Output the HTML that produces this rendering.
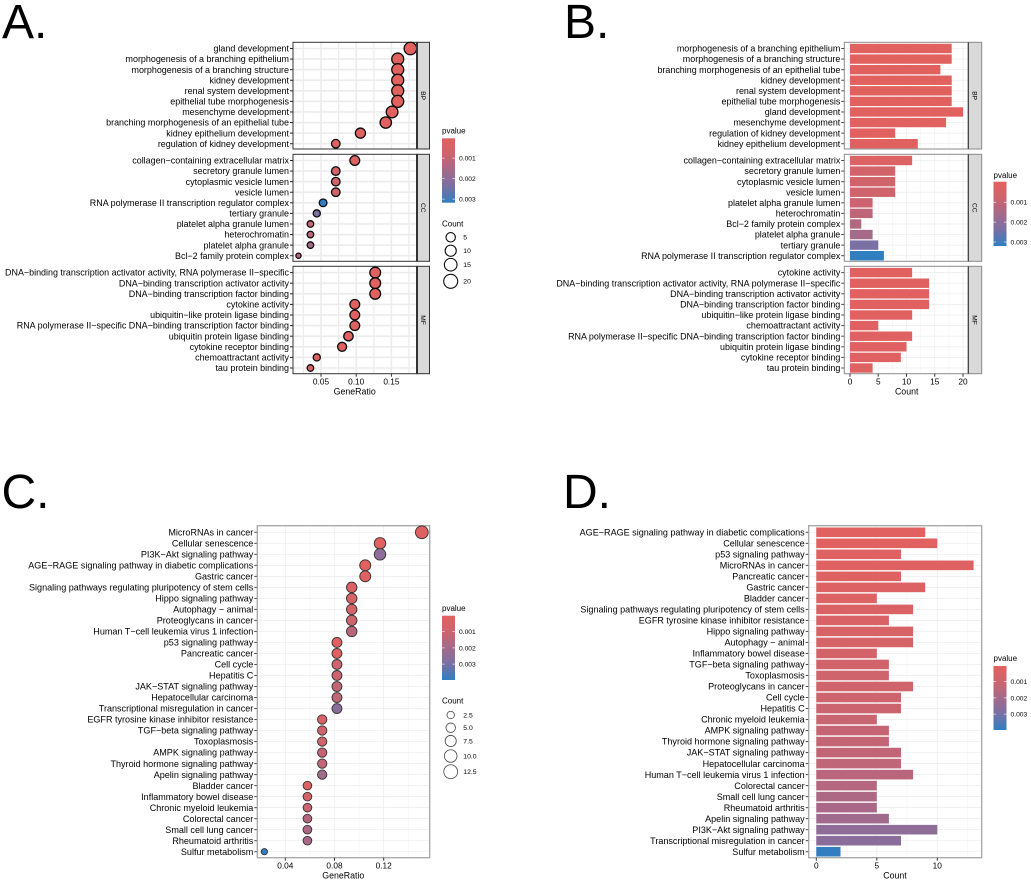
<!DOCTYPE html>
<html lang="en">
<head>
<meta charset="utf-8">
<title>Enrichment analysis panels</title>
<style>
html,body{margin:0;padding:0;background:#fff;width:1031px;height:883px;overflow:hidden}
svg{display:block;filter:blur(0.25px)}
text{font-family:"Liberation Sans",Arial,sans-serif;fill:#000}
.letter{font-size:48px;fill:#000}
</style>
</head>
<body>
<svg id="figure" width="1031" height="883" viewBox="0 0 1031 883" xmlns="http://www.w3.org/2000/svg">
  <defs>
    <linearGradient id="pGrad" x1="0" y1="0" x2="0" y2="1">
      <stop offset="0" stop-color="#e2615f"/>
      <stop offset="0.25" stop-color="#cd646e"/>
      <stop offset="0.5" stop-color="#a5698a"/>
      <stop offset="0.75" stop-color="#7870a5"/>
      <stop offset="1" stop-color="#2f7fc1"/>
    </linearGradient>
  </defs>
  <text class="letter" x="2" y="38">A.</text>
  <text class="letter" x="564" y="38">B.</text>
  <text class="letter" x="1.5" y="508">C.</text>
  <text class="letter" x="563" y="508">D.</text>
  <g id="panelA"></g>
  <g id="panelB"></g>
  <g id="panelC"></g>
  <g id="panelD"></g>
</svg>
<script>
/* ---------- Panel A data ---------- */
const aBpTerms = ["gland development","morphogenesis of a branching epithelium","morphogenesis of a branching structure","kidney development","renal system development","epithelial tube morphogenesis","mesenchyme development","branching morphogenesis of an epithelial tube","kidney epithelium development","regulation of kidney development"];
const aBpRatio = [0.177,0.159,0.159,0.159,0.159,0.159,0.151,0.142,0.106,0.071];
const aBpCount = [20,18,18,18,18,18,17,16,12,8];
const aBpP = [0.00004,0.00004,0.00004,0.00004,0.00004,0.00004,0.00005,0.00005,0.00008,0.00010];
const aCcTerms = ["collagen\u2212containing extracellular matrix","secretory granule lumen","cytoplasmic vesicle lumen","vesicle lumen","RNA polymerase II transcription regulator complex","tertiary granule","platelet alpha granule lumen","heterochromatin","platelet alpha granule","Bcl\u22122 family protein complex"];
const aCcRatio = [0.098,0.071,0.071,0.071,0.053,0.044,0.035,0.035,0.035,0.018];
const aCcCount = [11,8,8,8,6,5,4,4,4,2];
const aCcP = [0.00025,0.00060,0.00065,0.00070,0.00315,0.00235,0.00085,0.00110,0.00160,0.00130];
const aMfTerms = ["DNA\u2212binding transcription activator activity, RNA polymerase II\u2212specific","DNA\u2212binding transcription activator activity","DNA\u2212binding transcription factor binding","cytokine activity","ubiquitin\u2212like protein ligase binding","RNA polymerase II\u2212specific DNA\u2212binding transcription factor binding","ubiquitin protein ligase binding","cytokine receptor binding","chemoattractant activity","tau protein binding"];
const aMfRatio = [0.127,0.127,0.127,0.098,0.098,0.098,0.089,0.080,0.044,0.035];
const aMfCount = [14,14,14,11,11,11,10,9,5,4];
const aMfP = [0.00006,0.00006,0.00006,0.00005,0.00008,0.00010,0.00012,0.00010,0.00010,0.00012];
const aXTicks = [0.05,0.10,0.15];
const aXTickLabels = ["0.05","0.10","0.15"];
const aXMinor = [0.025,0.075,0.125,0.175];

/* ---------- Panel B data ---------- */
const bBpTerms = ["morphogenesis of a branching epithelium","morphogenesis of a branching structure","branching morphogenesis of an epithelial tube","kidney development","renal system development","epithelial tube morphogenesis","gland development","mesenchyme development","regulation of kidney development","kidney epithelium development"];
const bBpCount = [18,18,16,18,18,18,20,17,8,12];
const bBpP = [0.00004,0.00004,0.00004,0.00004,0.00004,0.00004,0.00004,0.00005,0.00008,0.00008];
const bCcTerms = ["collagen\u2212containing extracellular matrix","secretory granule lumen","cytoplasmic vesicle lumen","vesicle lumen","platelet alpha granule lumen","heterochromatin","Bcl\u22122 family protein complex","platelet alpha granule","tertiary granule","RNA polymerase II transcription regulator complex"];
const bCcCount = [11,8,8,8,4,4,2,4,5,6];
const bCcP = [0.00025,0.00060,0.00065,0.00070,0.00085,0.00110,0.00130,0.00160,0.00235,0.00315];
const bMfTerms = ["cytokine activity","DNA\u2212binding transcription activator activity, RNA polymerase II\u2212specific","DNA\u2212binding transcription activator activity","DNA\u2212binding transcription factor binding","ubiquitin\u2212like protein ligase binding","chemoattractant activity","RNA polymerase II\u2212specific DNA\u2212binding transcription factor binding","ubiquitin protein ligase binding","cytokine receptor binding","tau protein binding"];
const bMfCount = [11,14,14,14,11,5,11,10,9,4];
const bMfP = [0.00005,0.00006,0.00006,0.00006,0.00008,0.00010,0.00010,0.00012,0.00010,0.00012];
const bXTicks = [0,5,10,15,20];
const bXTickLabels = ["0","5","10","15","20"];
const bXMinor = [2.5,7.5,12.5,17.5];

/* ---------- Panel C data ---------- */
const cTerms = ["MicroRNAs in cancer","Cellular senescence","PI3K\u2212Akt signaling pathway","AGE\u2212RAGE signaling pathway in diabetic complications","Gastric cancer","Signaling pathways regulating pluripotency of stem cells","Hippo signaling pathway","Autophagy \u2212 animal","Proteoglycans in cancer","Human T\u2212cell leukemia virus 1 infection","p53 signaling pathway","Pancreatic cancer","Cell cycle","Hepatitis C","JAK\u2212STAT signaling pathway","Hepatocellular carcinoma","Transcriptional misregulation in cancer","EGFR tyrosine kinase inhibitor resistance","TGF\u2212beta signaling pathway","Toxoplasmosis","AMPK signaling pathway","Thyroid hormone signaling pathway","Apelin signaling pathway","Bladder cancer","Inflammatory bowel disease","Chronic myeloid leukemia","Colorectal cancer","Small cell lung cancer","Rheumatoid arthritis","Sulfur metabolism"];
const cRatio = [0.151,0.117,0.117,0.105,0.105,0.094,0.094,0.094,0.094,0.094,0.082,0.082,0.082,0.082,0.082,0.082,0.082,0.070,0.070,0.070,0.070,0.070,0.070,0.058,0.058,0.058,0.058,0.058,0.058,0.023];
const cCount = [13,10,10,9,9,8,8,8,8,8,7,7,7,7,7,7,7,6,6,6,6,6,6,5,5,5,5,5,5,2];
const cP = [0.00015,0.00010,0.00250,0.00005,0.00025,0.00040,0.00055,0.00060,0.00090,0.00150,0.00012,0.00020,0.00100,0.00105,0.00130,0.00135,0.00260,0.00050,0.00080,0.00085,0.00120,0.00125,0.00210,0.00030,0.00070,0.00110,0.00160,0.00180,0.00190,0.00395];
const cXTicks = [0.04,0.08,0.12];
const cXTickLabels = ["0.04","0.08","0.12"];
const cXMinor = [0.02,0.06,0.10,0.14];

/* ---------- Panel D data ---------- */
const dTerms = ["AGE\u2212RAGE signaling pathway in diabetic complications","Cellular senescence","p53 signaling pathway","MicroRNAs in cancer","Pancreatic cancer","Gastric cancer","Bladder cancer","Signaling pathways regulating pluripotency of stem cells","EGFR tyrosine kinase inhibitor resistance","Hippo signaling pathway","Autophagy \u2212 animal","Inflammatory bowel disease","TGF\u2212beta signaling pathway","Toxoplasmosis","Proteoglycans in cancer","Cell cycle","Hepatitis C","Chronic myeloid leukemia","AMPK signaling pathway","Thyroid hormone signaling pathway","JAK\u2212STAT signaling pathway","Hepatocellular carcinoma","Human T\u2212cell leukemia virus 1 infection","Colorectal cancer","Small cell lung cancer","Rheumatoid arthritis","Apelin signaling pathway","PI3K\u2212Akt signaling pathway","Transcriptional misregulation in cancer","Sulfur metabolism"];
const dCount = [9,10,7,13,7,9,5,8,6,8,8,5,6,6,8,7,7,5,6,6,7,7,8,5,5,5,6,10,7,2];
const dP = [0.00005,0.00010,0.00012,0.00015,0.00020,0.00025,0.00030,0.00040,0.00050,0.00055,0.00060,0.00070,0.00080,0.00085,0.00090,0.00100,0.00105,0.00110,0.00120,0.00125,0.00130,0.00135,0.00150,0.00160,0.00180,0.00190,0.00210,0.00250,0.00260,0.00395];
const dXTicks = [0,5,10];
const dXTickLabels = ["0","5","10"];
const dXMinor = [2.5,7.5,12.5];

/* ---------- Legend data ---------- */
const pLegendValues = [0.001,0.002,0.003];
const pLegendLabels = ["0.001","0.002","0.003"];
const aCountLegendValues = [5,10,15,20];
const aCountLegendLabels = ["5","10","15","20"];
const cCountLegendValues = [2.5,5,7.5,10,12.5];
const cCountLegendLabels = ["2.5","5.0","7.5","10.0","12.5"];

/* ---------- Scales ---------- */
const xA = v => 321 + (v - 0.05) * 704;
const xB = v => 850 + v * 5.65;
const xC = v => 285.3 + (v - 0.04) * 1230;
const xD = v => 816.3 + v * 12.1;
const rA = c => 0.9 + 1.2 * Math.sqrt(c);
const rC = c => 1 + 1.5 * Math.sqrt(c);
const rLegA = c => Math.sqrt(13 + 1.8 * c);
const rLegC = c => Math.sqrt(5.5 + 3.4 * c);
const scaleAB = {min:0.00002, max:0.00317};
const scaleCD = {min:0.00001, max:0.00399};

const rampStops = [[226,97,95],[205,100,110],[165,105,138],[120,112,165],[47,127,193]];
function pColor(p, s){
  const t = Math.max(0, Math.min(1, (p - s.min) / (s.max - s.min))) * 4;
  const i = Math.min(3, Math.floor(t));
  const u = t - i;
  const a = rampStops[i];
  const b = rampStops[i + 1];
  return "rgb(" + [0,1,2].map(k => Math.round(a[k] + (b[k] - a[k]) * u)).join(",") + ")";
}

const NS = "http://www.w3.org/2000/svg";
function mk(tag, parent, props){
  const n = document.createElementNS(NS, tag);
  for (const k in props) n.setAttribute(k, props[k]);
  parent.appendChild(n);
  return n;
}

/* Panel frame: background grid rows and vertical grid */
function drawGrid(g, box, rows, xScale, ticks, minor, col, wMajor, wMinor){
  minor.forEach(v => {
    const x = xScale(v);
    if (x < box.x0 || x > box.x1) return;
    const el = mk("line", g, {x1:x, x2:x, y1:box.y0, y2:box.y1, stroke:col, "stroke-width":wMinor});
    
    
  });
  ticks.forEach(v => {
    const x = xScale(v);
    const el = mk("line", g, {x1:x, x2:x, y1:box.y0, y2:box.y1, stroke:col, "stroke-width":wMajor});
    
    
  });
  rows.forEach(y => {
    const el = mk("line", g, {x1:box.x0, x2:box.x1, y1:y, y2:y, stroke:col, "stroke-width":wMajor});
    
    
  });
}

function rowPositions(first, last, n){
  const out = [];
  for (let i = 0; i < n; i++) out.push(first + (last - first) * i / (n - 1));
  return out;
}

function drawRowLabels(g, box, rows, terms, size, tickCol){
  terms.forEach((t, i) => {
    const tick = mk("line", g, {x1:box.x0 - 3, x2:box.x0, y1:rows[i], y2:rows[i], stroke:tickCol, "stroke-width":1});
    
    
    const el = mk("text", g, {x:box.x0 - 4, y:rows[i] + size * 0.35, "text-anchor":"end", "font-size":size});
    el.textContent = t;
    
    
  });
}

function drawDots(g, rows, ratios, counts, ps, xScale, rScale, scale, strokeCol, strokeW){
  ratios.forEach((v, i) => {
    const el = mk("circle", g, {cx:xScale(v), cy:rows[i], r:rScale(counts[i]), fill:pColor(ps[i], scale), stroke:strokeCol, "stroke-width":strokeW});
    
    
  });
}

function drawBars(g, rows, counts, ps, xScale, scale, h){
  counts.forEach((v, i) => {
    const el = mk("rect", g, {x:xScale(0), y:rows[i] - h / 2, width:xScale(v) - xScale(0), height:h, fill:pColor(ps[i], scale)});
    
    
  });
}

function drawBorder(g, box, col, w){
  const el = mk("rect", g, {x:box.x0, y:box.y0, width:box.x1 - box.x0, height:box.y1 - box.y0, fill:"none", stroke:col, "stroke-width":w});
  
  
}

function drawStrip(g, box, stripRight, label, col, leftW){
  const el = mk("rect", g, {x:box.x1, y:box.y0, width:stripRight - box.x1, height:box.y1 - box.y0, fill:"#d9d9d9", stroke:col, "stroke-width":1});
  
  
  const cx = (box.x1 + stripRight) / 2;
  const cy = (box.y0 + box.y1) / 2;
  const txt = mk("text", g, {x:cx, y:cy + 2.3, "text-anchor":"middle", "font-size":6.6, fill:"#222", transform:"rotate(90 " + cx + " " + cy + ")"});
  txt.textContent = label;
  
  
  return leftW;
}

function drawStripEdge(g, box, leftW){
  const edge = mk("line", g, {x1:box.x1, x2:box.x1, y1:box.y0, y2:box.y1, stroke:"#333", "stroke-width":leftW});
  
  
}

function drawXAxis(g, bottom, xScale, ticks, labels, title, titleX, labelY, titleY){
  ticks.forEach((v, i) => {
    const x = xScale(v);
    const tick = mk("line", g, {x1:x, x2:x, y1:bottom, y2:bottom + 3, stroke:"#333", "stroke-width":1});
    
    
    const el = mk("text", g, {x:x, y:labelY + 3, "text-anchor":"middle", "font-size":8.3});
    el.textContent = labels[i];
    
    
  });
  const t = mk("text", g, {x:titleX, y:titleY + 3, "text-anchor":"middle", "font-size":8.8});
  t.textContent = title;
  
  
}

function drawColorbar(g, x, top, bottom, tickYs, titleY){
  const title = mk("text", g, {x:x, y:titleY + 3, "font-size":8});
  title.textContent = "pvalue";
  
  
  const bar = mk("rect", g, {x:x, y:top, width:13, height:bottom - top, fill:"url(#pGrad)"});
  
  
  pLegendValues.forEach((v, i) => {
    const y = tickYs(v);
    const l = mk("line", g, {x1:x, x2:x + 2.6, y1:y, y2:y, stroke:"#fff", "stroke-width":0.6});
    
    
    const r = mk("line", g, {x1:x + 10.4, x2:x + 13, y1:y, y2:y, stroke:"#fff", "stroke-width":0.6});
    
    
    const el = mk("text", g, {x:x + 17, y:y + 2.4, "font-size":6.7});
    el.textContent = pLegendLabels[i];
    
    
  });
}

function drawCountLegend(g, titleY, values, labels, rFn, ys, strokeCol, strokeW){
  const title = mk("text", g, {x:442, y:titleY + 3, "font-size":8});
  title.textContent = "Count";
  
  
  values.forEach((v, i) => {
    const y = ys[i];
    const c = mk("circle", g, {cx:450.7, cy:y, r:rFn(v), fill:"#fff", stroke:strokeCol, "stroke-width":strokeW});
    
    
    const el = mk("text", g, {x:463.3, y:y + 2.4, "font-size":6.8});
    el.textContent = labels[i];
    
    
  });
}

/* ---------- Facet layout (shared by A and B) ---------- */
const facetLayout = [
  {y0:42.3, y1:149, first:48.5, last:143.7, label:"BP"},
  {y0:154.3, y1:261.3, first:160.5, last:255.7, label:"CC"},
  {y0:266.3, y1:373.7, first:272.6, last:368, label:"MF"}
];

/* ---------- Draw panel A ---------- */
(function(){
  const g = document.getElementById("panelA");
  const terms = [aBpTerms, aCcTerms, aMfTerms];
  const ratios = [aBpRatio, aCcRatio, aMfRatio];
  const counts = [aBpCount, aCcCount, aMfCount];
  const ps = [aBpP, aCcP, aMfP];
  facetLayout.forEach((f, i) => {
    const box = {x0:293, x1:417, y0:f.y0, y1:f.y1};
    const rows = rowPositions(f.first, f.last, terms[i].length);
    drawGrid(g, box, rows, xA, aXTicks, aXMinor, "#ececec", 1.6, 1.3);
    drawRowLabels(g, box, rows, terms[i], 8.95, "#222");
    drawStrip(g, box, 429.5, f.label, "#333", 2);
    drawBorder(g, box, "#333", 1);
    drawDots(g, rows, ratios[i], counts[i], ps[i], xA, rA, scaleAB, "#0a0a0a", 1.3);
    drawStripEdge(g, box, 2);
  });
  drawXAxis(g, 373.7, xA, aXTicks, aXTickLabels, "GeneRatio", 354.7, 381.3, 391.7);
  drawColorbar(g, 442, 138.3, 202.7, v => 137.6 + v * 20500, 130.7);
  drawCountLegend(g, 223.3, aCountLegendValues, aCountLegendLabels, rLegA, [237.3,250.7,264.7,281.3], "#0a0a0a", 1.1);
})();

/* ---------- Draw panel B ---------- */
(function(){
  const g = document.getElementById("panelB");
  const terms = [bBpTerms, bCcTerms, bMfTerms];
  const counts = [bBpCount, bCcCount, bMfCount];
  const ps = [bBpP, bCcP, bMfP];
  facetLayout.forEach((f, i) => {
    const box = {x0:844.3, x1:968.3, y0:f.y0, y1:f.y1};
    const rows = rowPositions(f.first, f.last, terms[i].length);
    drawGrid(g, box, rows, xB, bXTicks, bXMinor, "#ececec", 0.7, 0.4);
    drawRowLabels(g, box, rows, terms[i], 8.95, "#444");
    drawBars(g, rows, counts[i], ps[i], xB, scaleAB, 9.4);
    drawStrip(g, box, 981.7, f.label, "#8a8a8a", 1);
    drawBorder(g, box, "#8a8a8a", 1);
    drawStripEdge(g, box, 1);
  });
  drawXAxis(g, 373.7, xB, bXTicks, bXTickLabels, "Count", 906.7, 381.3, 391.7);
  drawColorbar(g, 993.5, 181.7, 246, v => 182.3 + v * 19900, 175);
})();

/* ---------- Draw panel C ---------- */
(function(){
  const g = document.getElementById("panelC");
  const box = {x0:257.3, x1:429.7, y0:525.7, y1:857.7};
  const rows = rowPositions(532.3, 851.7, cTerms.length);
  drawGrid(g, box, rows, xC, cXTicks, cXMinor, "#ececec", 0.7, 0.4);
  drawRowLabels(g, box, rows, cTerms, 9.05, "#444");
  drawBorder(g, box, "#a5a5a5", 1.3);
  drawDots(g, rows, cRatio, cCount, cP, xC, rC, scaleCD, "#333", 0.9);
  drawXAxis(g, 857.7, xC, cXTicks, cXTickLabels, "GeneRatio", 343.3, 865.3, 875.7);
  drawColorbar(g, 442, 615.7, 680, v => 615.5 + v * 16200, 608);
  drawCountLegend(g, 700.3, cCountLegendValues, cCountLegendLabels, rLegC, [715,727.7,741,756,771.7], "#444", 0.8);
})();

/* ---------- Draw panel D ---------- */
(function(){
  const g = document.getElementById("panelD");
  const box = {x0:808.7, x1:981.7, y0:525.7, y1:857.7};
  const rows = rowPositions(532.3, 851.7, dTerms.length);
  drawGrid(g, box, rows, xD, dXTicks, dXMinor, "#ececec", 0.7, 0.4);
  drawRowLabels(g, box, rows, dTerms, 9.05, "#444");
  drawBars(g, rows, dCount, dP, xD, scaleCD, 9.6);
  drawBorder(g, box, "#a5a5a5", 1.3);
  drawXAxis(g, 857.7, xD, dXTicks, dXTickLabels, "Count", 895, 865.3, 875.7);
  drawColorbar(g, 993.5, 666, 730, v => 665.5 + v * 16200, 658);
})();
</script>
</body>
</html>
